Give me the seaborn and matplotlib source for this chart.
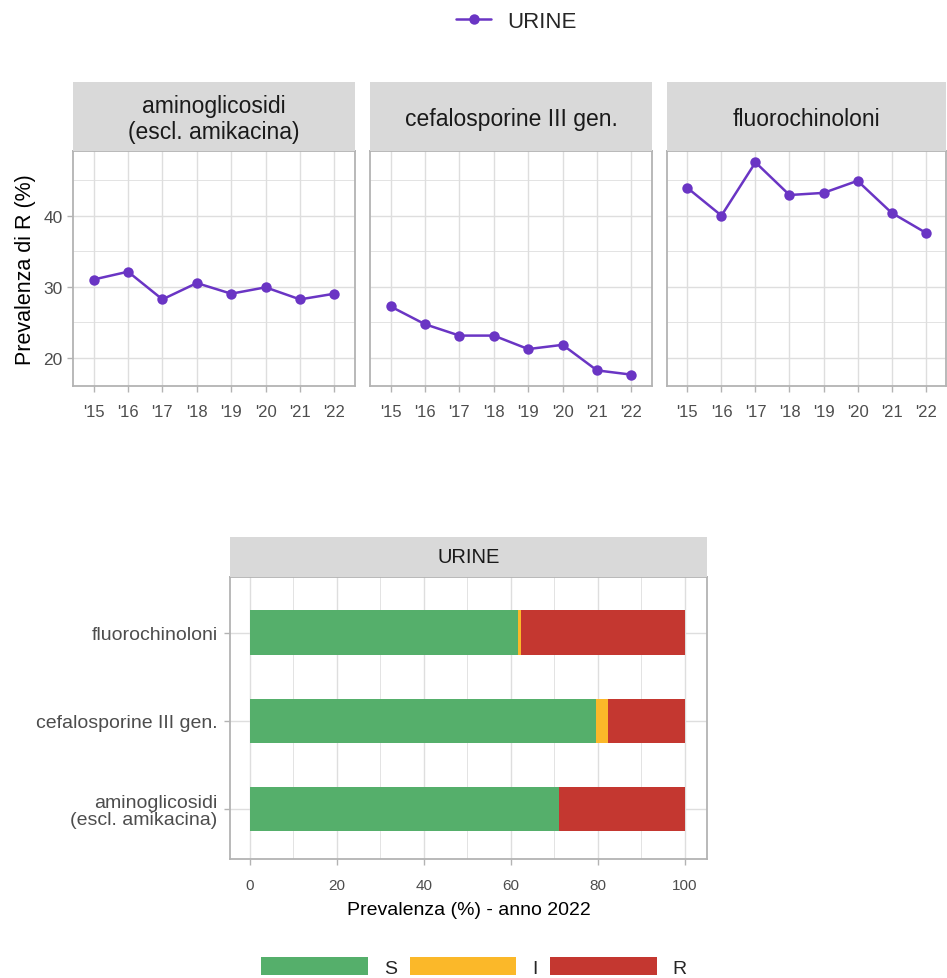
import matplotlib
matplotlib.use("Agg")
import matplotlib.pyplot as plt
import numpy as np
import pandas as pd
import seaborn as sns
from matplotlib.ticker import MultipleLocator
from matplotlib.patches import Patch

# --- data -------------------------------------------------------------
anni = ["'15", "'16", "'17", "'18", "'19", "'20", "'21", "'22"]
classi = ["aminoglicosidi\n(escl. amikacina)", "cefalosporine III gen.", "fluorochinoloni"]
campione = "URINE"

r_amino = [31.0, 32.1, 28.2, 30.5, 29.0, 29.9, 28.2, 29.0]
r_cefa = [27.2, 24.7, 23.1, 23.1, 21.2, 21.8, 18.2, 17.6]
r_fluoro = [43.9, 40.0, 47.5, 42.9, 43.2, 44.9, 40.4, 37.6]

# 2022 S / I / R breakdown, same order as classi
s_2022 = [71.0, 79.5, 61.7]
i_2022 = [0.0, 2.9, 0.7]
r_2022 = [29.0, 17.6, 37.6]

# --- style ------------------------------------------------------------
sns.set_theme(style="white")
plt.rcParams["font.family"] = ["Liberation Sans", "DejaVu Sans"]

PURPLE = "#6A35C4"
GREEN = "#55AF6B"
YELLOW = "#FBB829"
RED = "#C43730"
STRIP = "#D9D9D9"
BORDER = "#B3B3B3"
GRID = "#DEDEDE"
TICKTXT = "#4D4D4D"

W, H = 947, 979
fig = plt.figure(figsize=(W / 100, H / 100), dpi=100)


def box(x0, y0, x1, y1):
    """pixel box (top-left origin) -> figure rect"""
    return [x0 / W, 1 - y1 / H, (x1 - x0) / W, (y1 - y0) / H]


def style_panel(ax):
    for sp in ax.spines.values():
        sp.set_color(BORDER)
        sp.set_linewidth(1.3)
    ax.tick_params(axis="both", colors=BORDER, length=4, width=1,
                   labelcolor=TICKTXT, bottom=True, left=True)


def strip(rect, label, size, spacing=1.2, dy=0.0):
    s = fig.add_axes(rect)
    s.set_facecolor(STRIP)
    for sp in s.spines.values():
        sp.set_visible(False)
    s.set_xticks([])
    s.set_yticks([])
    s.text(0.5, 0.5 + dy, label, ha="center", va="center", fontsize=size,
           color="#1A1A1A", linespacing=spacing, transform=s.transAxes)


# --- top row: trend of R prevalence -----------------------------------
trend = pd.DataFrame({
    "classe": np.repeat(classi, len(anni)),
    "anno": anni * len(classi),
    "R": r_amino + r_cefa + r_fluoro,
})

panels_x = [(73, 355), (370, 652), (667, 946)]
top_axes = []
for k, (classe, (x0, x1)) in enumerate(zip(classi, panels_x)):
    ax = fig.add_axes(box(x0, 152, x1, 387))
    sub = trend[trend["classe"] == classe]
    sns.lineplot(data=sub, x="anno", y="R", sort=False, color=PURPLE,
                 marker="o", markersize=7.5, markeredgewidth=0,
                 linewidth=1.8, ax=ax, label=campione)
    ax.get_legend().remove()
    ax.set_xlim(-0.6, 7.6)
    ax.set_ylim(16.0, 49.1)
    ax.yaxis.set_major_locator(MultipleLocator(10))
    ax.yaxis.set_minor_locator(MultipleLocator(5))
    ax.grid(True, which="major", color=GRID, linewidth=1.0)
    ax.grid(True, which="minor", axis="y", color=GRID, linewidth=0.6)
    ax.set_axisbelow(True)
    style_panel(ax)
    ax.tick_params(axis="x", labelsize=12, pad=9)
    ax.tick_params(axis="y", labelsize=12.5)
    ax.set_xlabel("")
    if k == 0:
        ax.set_ylabel("Prevalenza di R (%)", fontsize=15.5, color="black", labelpad=5)
    else:
        ax.set_ylabel("")
        ax.tick_params(axis="y", left=False, labelleft=False)
    top_axes.append(ax)
    strip(box(x0, 83, x1, 152), classe, 16.5, spacing=1.15, dy=-0.03)

handles, labels = top_axes[0].get_legend_handles_labels()
fig.legend(handles[:1], [campione], loc="center", bbox_to_anchor=(516 / W, 1 - 22 / H),
           frameon=False, fontsize=16, handlelength=1.6, handletextpad=0.7)

# --- bottom: S / I / R in 2022 ----------------------------------------
bx0, bx1 = 230, 707
axb = fig.add_axes(box(bx0, 578, bx1, 860))
ordine = classi[::-1]
tot_i = [s + i for s, i in zip(s_2022, i_2022)]
tot_r = [s + i + r for s, i, r in zip(s_2022, i_2022, r_2022)]
bars = pd.DataFrame({"classe": classi, "S": s_2022, "SI": tot_i, "SIR": tot_r})

for col, colr in [("SIR", RED), ("SI", YELLOW), ("S", GREEN)]:
    sns.barplot(data=bars, x=col, y="classe", order=ordine, orient="h",
                color=colr, width=0.5, linewidth=0, saturation=1, ax=axb)

axb.set_xlim(-4.6, 105.1)
axb.set_ylim(2.57, -0.63)
axb.xaxis.set_major_locator(MultipleLocator(20))
axb.xaxis.set_minor_locator(MultipleLocator(10))
axb.grid(True, which="major", color=GRID, linewidth=1.0)
axb.grid(True, which="minor", axis="x", color=GRID, linewidth=0.6)
axb.set_axisbelow(True)
style_panel(axb)
axb.tick_params(axis="x", labelsize=11, pad=10)
axb.tick_params(axis="y", labelsize=14, labelcolor=TICKTXT, pad=5)
for t in axb.get_yticklabels():
    t.set_linespacing(1.05)
    t.set_horizontalalignment("right")
axb.set_xlabel("Prevalenza (%) - anno 2022", fontsize=14, color="black", labelpad=6)
axb.set_ylabel("")
strip(box(bx0, 538, bx1, 578), campione, 14.5)

leg_handles = [Patch(facecolor=GREEN, edgecolor="none"),
               Patch(facecolor=YELLOW, edgecolor="none"),
               Patch(facecolor=RED, edgecolor="none")]
fig.legend(leg_handles, ["S", "I", "R"], loc="center", ncol=3,
           bbox_to_anchor=(474 / W, 1 - 968 / H), frameon=False, fontsize=14,
           handlelength=5.5, handleheight=1.05, handletextpad=0.8, columnspacing=0.65)

fig.savefig("out.png", dpi=100)
